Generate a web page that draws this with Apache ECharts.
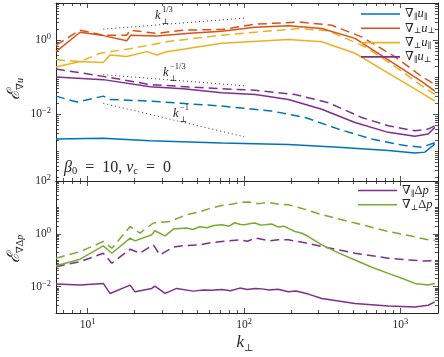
<!DOCTYPE html>
<html>
<head>
<meta charset="utf-8">
<script src="https://cdn.jsdelivr.net/npm/echarts@6/dist/echarts.min.js"></script>
<style>
  html, body { margin: 0; padding: 0; background: #fff; }
  #chart { width: 444px; height: 357px; }
</style>
</head>
<body>
<div id="chart"></div>
<script>
// ---- top panel: gradient spectra of u (solid / dashed pairs) ----
var kParPar = [6.28, 12.6, 25.1, 72.1, 192, 401, 836, 1236, 1432, 1659];
var eParPar = [0.00215, 0.00225, 0.00194, 0.00169, 0.00152, 0.00129, 0.00105, 0.000896, 0.000952, 0.00158];
var kParParD = [6.28, 8.53, 12.6, 13.9, 25.1, 72.1, 150, 246, 401, 654, 1067, 1364, 1659];
var eParParD = [0.0308, 0.0213, 0.0308, 0.0251, 0.0226, 0.0166, 0.0122, 0.00817, 0.00398, 0.00215, 0.00143, 0.00129, 0.0017];

var kPerpPerp = [6.28, 8.96, 12.6, 17.8, 18.9, 27.7, 45.1, 72.1, 117, 192, 314, 512, 836, 1364, 1659];
var ePerpPerp = [0.488, 1.63, 1.32, 0.958, 1.36, 1.28, 1.54, 1.74, 2.22, 2.44, 2.05, 1.11, 0.293, 0.0773, 0.0418];
var kPerpPerpD = [6.28, 8.96, 12.6, 17.8, 18.7, 27.7, 40.6, 72.1, 117, 223, 363, 565, 921, 1364, 1659];
var ePerpPerpD = [0.736, 1.85, 1.36, 1.36, 1.85, 1.51, 1.85, 1.93, 2.67, 3.08, 2.51, 1.22, 0.359, 0.105, 0.0631];

var kPerpPar = [6.28, 8.96, 12.6, 13.9, 17.8, 23.9, 27.7, 32.0, 72.1, 192, 314, 512, 836, 1364, 1659];
var ePerpPar = [0.187, 0.264, 0.248, 0.398, 0.359, 0.488, 0.398, 0.488, 0.816, 1.04, 0.901, 0.442, 0.129, 0.0379, 0.0226];
var kPerpParD = [6.28, 8.96, 12.0, 19.5, 32.0, 72.1, 223, 346, 593, 921, 1364, 1659];
var ePerpParD = [0.293, 0.264, 0.442, 0.601, 0.901, 1.36, 2.05, 1.77, 0.663, 0.194, 0.0593, 0.0341];

var kParPerp = [6.28, 12.6, 25.1, 40.8, 72.1, 118, 192, 314, 512, 836, 1236, 1504, 1659];
var eParPerp = [0.101, 0.0858, 0.0548, 0.0485, 0.0379, 0.0341, 0.0251, 0.0136, 0.006, 0.00325, 0.00254, 0.00293, 0.00442];
var kParPerpD = [6.28, 12.6, 25.1, 72.1, 118, 212, 346, 565, 836, 1236, 1504, 1659];
var eParPerpD = [0.166, 0.105, 0.0631, 0.0485, 0.0445, 0.0341, 0.0205, 0.00817, 0.00488, 0.00359, 0.00398, 0.00488];

// power-law guides (end points only)
var guideK = [12.6, 100];
var guideThird = [1.97, 3.9];
var guideMinusThird = [0.117, 0.0586];
var guideMinusOne = [0.0197, 0.00248];

// ---- bottom panel: gradient spectra of Δp ----
var kPerpDp = [6.28, 8.96, 12.6, 14.3, 18.7, 20.1, 25.7, 26.9, 31.3, 35.3, 42.9, 47, 52.2, 58, 64, 72.1, 80, 87.5, 95, 101, 110, 118, 127, 136, 150, 166, 180, 192, 212, 235, 258, 314, 401, 512, 650, 836, 1050, 1236, 1504, 1659];
var ePerpDp = [0.062, 0.109, 0.349, 0.184, 0.686, 0.541, 0.916, 1.30, 0.839, 1.51, 1.65, 1.45, 1.85, 1.70, 2.05, 2.20, 1.95, 2.62, 2.25, 2.20, 2.45, 2.56, 2.15, 2.20, 2.35, 1.80, 1.95, 1.60, 1.22, 1.05, 0.789, 0.381, 0.189, 0.102, 0.0553, 0.0318, 0.0193, 0.0132, 0.0114, 0.0132];
var kPerpDpD = [6.28, 8.96, 12.6, 14.3, 18.7, 21.6, 26.3, 33.6, 42.9, 52, 60, 72.1, 85, 95, 107, 118, 126, 140, 150, 170, 192, 250, 314, 512, 836, 1200, 1504, 1659];
var ePerpDpD = [0.119, 0.212, 0.509, 0.285, 1.90, 1.06, 2.56, 2.94, 5.30, 6.8, 9.0, 11.7, 13.5, 15.5, 16.1, 14.0, 13.9, 15.2, 14.8, 13.0, 12.7, 8.2, 5.30, 2.56, 1.22, 0.80, 0.591, 0.56];

var kParDp = [6.28, 8.96, 12.6, 13.9, 18.7, 20.1, 25.7, 26.9, 31.3, 37.1, 47.3, 55, 62, 72.1, 82, 94, 105, 118, 130, 145, 165, 192, 215, 258, 314, 512, 836, 1236, 1504, 1659];
var eParDp = [0.01245, 0.0114, 0.0132, 0.00551, 0.0114, 0.00634, 0.00853, 0.01045, 0.00551, 0.00853, 0.00674, 0.0075, 0.0072, 0.00782, 0.007, 0.00877, 0.0078, 0.00853, 0.0082, 0.00736, 0.008, 0.00634, 0.0068, 0.0052, 0.00355, 0.00229, 0.00186, 0.0017, 0.00197, 0.00264];
var kParDpD = [6.28, 8.96, 12.6, 14.3, 18.7, 21.6, 26.3, 29.0, 35.3, 42, 52.2, 60, 72.1, 94, 105, 118, 130, 145, 165, 192, 250, 314, 512, 836, 1364, 1659];
var eParDpD = [0.0568, 0.0881, 0.184, 0.0766, 0.261, 0.184, 0.381, 0.158, 0.311, 0.36, 0.381, 0.45, 0.509, 0.591, 0.52, 0.686, 0.62, 0.541, 0.6, 0.591, 0.45, 0.328, 0.184, 0.119, 0.0936, 0.0961];

// axis ranges in decades
var xRange = [Math.log10(6.28), 3.24];
var yTopRange = [-3.8, 1];
var yBotRange = [-3, 2];
var xLabels = [1, 2, 3];
var yTopLabels = [-2, 0];
var yBotLabels = [-2, 0, 2];

var SERIF = "'Liberation Serif', 'DejaVu Serif', serif";
var INK = '#262626';
var C = { blue: '#0072BD', red: '#D95319', yellow: '#EDB120', purple: '#7E2F8E', green: '#77AC30' };

function toLog(k, e) {
  return k.map(function (v, i) { return [Math.log10(v), Math.log10(e[i])]; });
}

// log minor ticks; decades that are not major count as minor too
function minorTicks(range, majors) {
  var out = [];
  for (var n = Math.floor(range[0]); n <= Math.ceil(range[1]); n++) {
    for (var m = 1; m <= 9; m++) {
      var v = n + Math.log10(m);
      if (v <= range[0] || v >= range[1]) continue;
      if (m > 1 || majors.indexOf(n) < 0) out.push(v);
    }
  }
  return out;
}

function decades(range, step) {
  var out = [];
  for (var n = Math.ceil(range[0]); n <= Math.floor(range[1]); n++) {
    if (n % step === 0) out.push(n);
  }
  return out;
}

function fmtPow(v) {
  var n = Math.round(v);
  return '{b|10}{s|' + (n < 0 ? '\u2212' : '') + Math.abs(n) + '}';
}
var powRich = {
  b: { fontFamily: SERIF, fontSize: 11.5, lineHeight: 15, color: INK },
  s: { fontFamily: SERIF, fontSize: 8.5, lineHeight: 8, verticalAlign: 'top', color: INK }
};

// a pair of axes on one side: major ticks (+ line, labels) and minor ticks
function axisPair(dim, grid, pos, range, majors, labels) {
  var base = {
    type: 'value', gridIndex: grid, position: pos, min: range[0], max: range[1],
    splitLine: { show: false }
  };
  var major = Object.assign({}, base, {
    axisLine: { show: true, onZero: false, lineStyle: { color: INK, width: 1 } },
    axisTick: { show: true, inside: true, length: 5, customValues: majors, lineStyle: { color: INK, width: 0.8 } },
    axisLabel: labels
      ? { show: true, customValues: labels, formatter: fmtPow, rich: powRich, margin: dim === 'x' ? 4 : 5 }
      : { show: false }
  });
  var minor = Object.assign({}, base, {
    axisLine: { show: false, onZero: false },
    axisTick: { show: true, inside: true, length: 3, customValues: minorTicks(range, majors), lineStyle: { color: INK, width: 0.8 } },
    axisLabel: { show: false }
  });
  return [major, minor];
}

var xMaj = decades(xRange, 1);
var yTopMaj = decades(yTopRange, 2);
var yBotMaj = decades(yBotRange, 2);

var xAxes = [].concat(
  axisPair('x', 0, 'bottom', xRange, xMaj, null),
  axisPair('x', 0, 'top', xRange, xMaj, null),
  axisPair('x', 1, 'bottom', xRange, xMaj, xLabels),
  axisPair('x', 1, 'top', xRange, xMaj, null)
);
var yAxes = [].concat(
  axisPair('y', 0, 'left', yTopRange, yTopMaj, yTopLabels),
  axisPair('y', 0, 'right', yTopRange, yTopMaj, null),
  axisPair('y', 1, 'left', yBotRange, yBotMaj, yBotLabels),
  axisPair('y', 1, 'right', yBotRange, yBotMaj, null)
);

function line(name, k, e, color, dashed, panel) {
  return {
    name: name, type: 'line',
    xAxisIndex: panel * 4, yAxisIndex: panel * 4,
    data: toLog(k, e), showSymbol: false, symbol: 'none', silent: true,
    lineStyle: { color: color, width: 1.5, type: dashed ? [9, 5] : 'solid' },
    itemStyle: { color: color },
    z: dashed ? 2 : 3
  };
}

function guide(e) {
  return {
    type: 'line', xAxisIndex: 0, yAxisIndex: 0, data: toLog(guideK, e),
    showSymbol: false, symbol: 'none', silent: true,
    lineStyle: { color: '#333', width: 1, type: [1, 3] }, z: 1
  };
}

var legendText = {
  parPar: '{n|\u2207}{s|\u2225}{i|u}{s|\u2225}',
  perpPerp: '{n|\u2207}{s|\u22a5}{i|u}{s|\u22a5}',
  perpPar: '{n|\u2207}{s|\u22a5}{i|u}{s|\u2225}',
  parPerp: '{n|\u2207}{s|\u2225}{i|u}{s|\u22a5}',
  parDp: '{n|\u2207}{s|\u2225}{n|\u0394}{i|p}',
  perpDp: '{n|\u2207}{s|\u22a5}{n|\u0394}{i|p}'
};
var legendRich = {
  n: { fontFamily: SERIF, fontSize: 12.5, lineHeight: 14, color: INK },
  i: { fontFamily: SERIF, fontStyle: 'italic', fontSize: 12.5, lineHeight: 14, color: INK },
  s: { fontFamily: SERIF, fontSize: 8, lineHeight: 9, verticalAlign: 'bottom', color: INK }
};

function legendBox(names, left, top) {
  return {
    data: names, orient: 'vertical', left: left, top: top, padding: 0,
    icon: 'rect', itemWidth: 39, itemHeight: 1.6, itemGap: 0.3,
    selectedMode: false,
    formatter: function (name) { return legendText[name]; },
    textStyle: { color: INK, fontFamily: SERIF, fontSize: 12, lineHeight: 14, rich: legendRich }
  };
}

// text helpers for graphic annotations (zrender style names)
function tex(x, y, text, size, italic) {
  return {
    type: 'text', x: x, y: y, silent: true,
    style: {
      text: text, fill: INK, fontFamily: SERIF, fontSize: size,
      fontStyle: italic ? 'italic' : 'normal', align: 'left', verticalAlign: 'middle'
    }
  };
}

function kPower(x, y, power) {
  return [
    tex(x, y, 'k', 12.5, true),
    tex(x + 7, y - 6, power, 8.5, false),
    tex(x + 6.5, y + 6, '\u22a5', 8, false)
  ];
}

var chart = echarts.init(document.getElementById('chart'), null, { renderer: 'canvas' });

chart.setOption({
  animation: false,
  backgroundColor: '#fff',
  grid: [
    { left: 56, right: 6, top: 3, height: 178, outerBoundsMode: 'none' },
    { left: 56, right: 6, top: 181, height: 132, outerBoundsMode: 'none' }
  ],
  xAxis: xAxes,
  yAxis: yAxes,
  legend: [
    legendBox(['parPar', 'perpPerp', 'perpPar', 'parPerp'], 361, 7),
    legendBox(['parDp', 'perpDp'], 358, 183.5)
  ],
  series: [
    guide(guideThird), guide(guideMinusThird), guide(guideMinusOne),
    line('parParD', kParParD, eParParD, C.blue, true, 0),
    line('perpPerpD', kPerpPerpD, ePerpPerpD, C.red, true, 0),
    line('perpParD', kPerpParD, ePerpParD, C.yellow, true, 0),
    line('parPerpD', kParPerpD, eParPerpD, C.purple, true, 0),
    line('parPar', kParPar, eParPar, C.blue, false, 0),
    line('perpPerp', kPerpPerp, ePerpPerp, C.red, false, 0),
    line('perpPar', kPerpPar, ePerpPar, C.yellow, false, 0),
    line('parPerp', kParPerp, eParPerp, C.purple, false, 0),
    line('parDpD', kParDpD, eParDpD, C.purple, true, 1),
    line('perpDpD', kPerpDpD, ePerpDpD, C.green, true, 1),
    line('parDp', kParDp, eParDp, C.purple, false, 1),
    line('perpDp', kPerpDp, ePerpDp, C.green, false, 1)
  ],
  graphic: [].concat(
    kPower(155, 16, '1/3'),
    kPower(163, 73, '\u22121/3'),
    kPower(173, 114, '\u22121'),
    [
      {
        type: 'text', x: 64, y: 168, silent: true,
        style: {
          text: '{i|\u03b2}{b|0}{n|\u2002=\u200210, }{i|\u03bd}{b|c}{n|\u2002=\u20020}',
          verticalAlign: 'middle', align: 'left',
          rich: {
            n: { fill: INK, fontFamily: SERIF, fontSize: 16, lineHeight: 18 },
            i: { fill: INK, fontFamily: SERIF, fontStyle: 'italic', fontSize: 16, lineHeight: 18 },
            b: { fill: INK, fontFamily: SERIF, fontSize: 10.5, lineHeight: 10, verticalAlign: 'bottom' }
          }
        }
      },
      {
        type: 'text', x: 15, y: 89, rotation: Math.PI / 2, silent: true,
        style: {
          text: '{e|\u2130}{n|\u2207}{i|u}', align: 'center', verticalAlign: 'middle',
          rich: {
            e: { fill: INK, fontFamily: "'DejaVu Serif', serif", fontStyle: 'italic', fontSize: 17, lineHeight: 20 },
            n: { fill: INK, fontFamily: SERIF, fontSize: 10, lineHeight: 10, verticalAlign: 'bottom' },
            i: { fill: INK, fontFamily: SERIF, fontStyle: 'italic', fontSize: 10, lineHeight: 10, verticalAlign: 'bottom' }
          }
        }
      },
      {
        type: 'text', x: 15, y: 249, rotation: Math.PI / 2, silent: true,
        style: {
          text: '{e|\u2130}{n|\u2207\u0394}{i|p}', align: 'center', verticalAlign: 'middle',
          rich: {
            e: { fill: INK, fontFamily: "'DejaVu Serif', serif", fontStyle: 'italic', fontSize: 17, lineHeight: 20 },
            n: { fill: INK, fontFamily: SERIF, fontSize: 10, lineHeight: 10, verticalAlign: 'bottom' },
            i: { fill: INK, fontFamily: SERIF, fontStyle: 'italic', fontSize: 10, lineHeight: 10, verticalAlign: 'bottom' }
          }
        }
      },
      {
        type: 'text', x: 245, y: 343, silent: true,
        style: {
          text: '{i|k}{s|\u22a5}', align: 'center', verticalAlign: 'middle',
          rich: {
            i: { fill: INK, fontFamily: SERIF, fontStyle: 'italic', fontSize: 17, lineHeight: 20 },
            s: { fill: INK, fontFamily: SERIF, fontSize: 10, lineHeight: 10, verticalAlign: 'bottom' }
          }
        }
      }
    ]
  )
});

window.addEventListener('resize', function () { chart.resize(); });
</script>
</body>
</html>
